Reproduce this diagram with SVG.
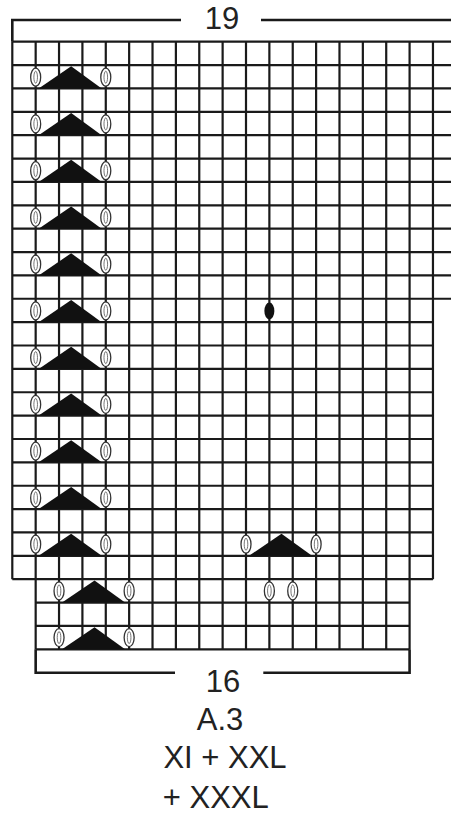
<svg xmlns="http://www.w3.org/2000/svg" xmlns:xlink="http://www.w3.org/1999/xlink" width="451" height="818" viewBox="0 0 451 818">
<style>
.grid{fill:none;stroke:#1a1a1a;stroke-width:2.2}
.br{fill:none;stroke:#1a1a1a;stroke-width:2.6}
.lbl{font-family:"Liberation Sans",Arial,sans-serif;font-size:31px;fill:#222;text-anchor:middle}
.tri{fill:#111}
</style>
<defs>
<g id="oval"><ellipse rx="5" ry="9" fill="#fff" stroke="#333" stroke-width="1.3"/><ellipse rx="1.8" ry="6" fill="none" stroke="#666" stroke-width="0.9"/></g>
<polygon id="tri" class="tri" points="3,23.37 66,23.37 35.5,1.2"/>
</defs>
<rect width="451" height="818" fill="#fff"/>
<g id="grid">
<path class="grid" d="M12.3,41.7V579.21 M35.67,41.7V649.32 M59.04,41.7V649.32 M82.41,41.7V649.32 M105.78,41.7V649.32 M129.15,41.7V649.32 M152.52,41.7V649.32 M175.89,41.7V649.32 M199.26,41.7V649.32 M222.63,41.7V649.32 M246,41.7V649.32 M269.37,41.7V649.32 M292.74,41.7V649.32 M316.11,41.7V649.32 M339.48,41.7V649.32 M362.85,41.7V649.32 M386.22,41.7V649.32 M409.59,41.7V649.32 M432.96,41.7V579.21
M12.3,41.7H451 M12.3,65.07H451 M12.3,88.44H451 M12.3,111.81H451 M12.3,135.18H451 M12.3,158.55H451 M12.3,181.92H451 M12.3,205.29H451 M12.3,228.66H451 M12.3,252.03H451 M12.3,275.4H451 M12.3,298.77H451
M12.3,322.14H432.96 M12.3,345.51H432.96 M12.3,368.88H432.96 M12.3,392.25H432.96 M12.3,415.62H432.96 M12.3,438.99H432.96 M12.3,462.36H432.96 M12.3,485.73H432.96 M12.3,509.1H432.96 M12.3,532.47H432.96 M12.3,555.84H432.96 M12.3,579.21H432.96
M35.67,602.58H409.59 M35.67,625.95H409.59 M35.67,649.32H409.59"/>
</g>
<g id="brackets">
<path class="br" d="M181,20H12.3V41.7 M261,20H451"/>
<path class="br" d="M175,672.7H35.67V649.32 M263.3,672.7H409.59V649.32"/>
</g>
<g id="triangles">
<use xlink:href="#tri" x="35.67" y="65.07"/>
<use xlink:href="#tri" x="35.67" y="111.81"/>
<use xlink:href="#tri" x="35.67" y="158.55"/>
<use xlink:href="#tri" x="35.67" y="205.29"/>
<use xlink:href="#tri" x="35.67" y="252.03"/>
<use xlink:href="#tri" x="35.67" y="298.77"/>
<use xlink:href="#tri" x="35.67" y="345.51"/>
<use xlink:href="#tri" x="35.67" y="392.25"/>
<use xlink:href="#tri" x="35.67" y="438.99"/>
<use xlink:href="#tri" x="35.67" y="485.73"/>
<use xlink:href="#tri" x="35.67" y="532.47"/>
<use xlink:href="#tri" x="246" y="532.47"/>
<use xlink:href="#tri" x="59.04" y="579.21"/>
<use xlink:href="#tri" x="59.04" y="625.95"/>
</g>
<g id="ovals">
<use xlink:href="#oval" x="35.67" y="77.2"/><use xlink:href="#oval" x="105.78" y="77.2"/>
<use xlink:href="#oval" x="35.67" y="123.9"/><use xlink:href="#oval" x="105.78" y="123.9"/>
<use xlink:href="#oval" x="35.67" y="170.7"/><use xlink:href="#oval" x="105.78" y="170.7"/>
<use xlink:href="#oval" x="35.67" y="217.4"/><use xlink:href="#oval" x="105.78" y="217.4"/>
<use xlink:href="#oval" x="35.67" y="264.2"/><use xlink:href="#oval" x="105.78" y="264.2"/>
<use xlink:href="#oval" x="35.67" y="310.9"/><use xlink:href="#oval" x="105.78" y="310.9"/>
<use xlink:href="#oval" x="35.67" y="357.6"/><use xlink:href="#oval" x="105.78" y="357.6"/>
<use xlink:href="#oval" x="35.67" y="404.4"/><use xlink:href="#oval" x="105.78" y="404.4"/>
<use xlink:href="#oval" x="35.67" y="451.1"/><use xlink:href="#oval" x="105.78" y="451.1"/>
<use xlink:href="#oval" x="35.67" y="497.9"/><use xlink:href="#oval" x="105.78" y="497.9"/>
<use xlink:href="#oval" x="35.67" y="544.2"/><use xlink:href="#oval" x="105.78" y="544.2"/>
<use xlink:href="#oval" x="246" y="544.2"/><use xlink:href="#oval" x="316.11" y="544.2"/>
<use xlink:href="#oval" x="59.04" y="590.9"/><use xlink:href="#oval" x="129.15" y="590.9"/>
<use xlink:href="#oval" x="269.37" y="590.9"/><use xlink:href="#oval" x="292.74" y="590.9"/>
<use xlink:href="#oval" x="59.04" y="637.6"/><use xlink:href="#oval" x="129.15" y="637.6"/>
<ellipse id="dot" cx="269.37" cy="310.9" rx="5" ry="8.5" fill="#111"/>
</g>
<g id="labels">
<text class="lbl" x="222" y="29.3">19</text>
<text class="lbl" x="223" y="691.7">16</text>
<text class="lbl" x="220" y="730">A.3</text>
<text class="lbl" x="225" y="768.3">XI + XXL</text>
<text class="lbl" x="215.8" y="808.3">+ XXXL</text>
</g>
</svg>
